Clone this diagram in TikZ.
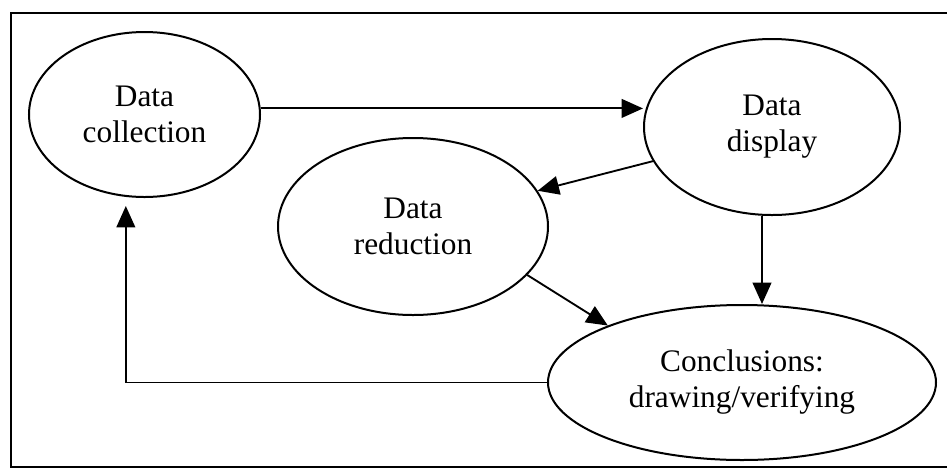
\documentclass[tikz,border=0pt]{standalone}
\usepackage{fontspec}
\setmainfont{Liberation Serif}
\usetikzlibrary{shapes.geometric,arrows.meta}
\tikzset{
  oval/.style={draw, line width=1.5pt, ellipse, inner sep=0pt, align=center,
    font=\fontsize{23.5pt}{27pt}\selectfont},
  arr/.style={line width=1.4pt, -{Triangle[length=16pt,width=14pt]}},
  frame/.style={line width=1.6pt}
}
\begin{document}
\begin{tikzpicture}[x=0.75pt,y=-0.75pt]
\useasboundingbox (0,0) rectangle (947,469);
% frame
\coordinate (tr) at (947,13);
\coordinate (tl) at (11,13);
\coordinate (bl) at (11,467);
\coordinate (br) at (947,467);
\draw[frame] (tr) -- (tl) -- (bl) -- (br);
% nodes
\node[oval, minimum width=173.25pt, minimum height=123.75pt] (coll) at (144.5,114.5) {Data\\collection};
\node[oval, minimum width=192pt, minimum height=132pt] (disp) at (772,127) {Data\\display};
\node[oval, minimum width=202.5pt, minimum height=132.75pt] (red) at (413,226.5) {Data\\reduction};
\node[oval, minimum width=291pt, minimum height=116.25pt] (conc) at (742,382.5) {Conclusions:\\drawing/verifying};
% connectors
\draw[arr] (coll.3) -- (coll.3 -| disp.west);
\draw[arr] (disp.196) -- (red.16);
\draw[arr] ([xshift=-7.5pt]disp.south) -- ([xshift=-7.5pt]disp.south |- conc.north);
\draw[arr] (red.337) -- (conc.157);
\draw[arr] (conc.west) -| ([xshift=-14pt,yshift=-6pt]coll.south);
\end{tikzpicture}
\end{document}
